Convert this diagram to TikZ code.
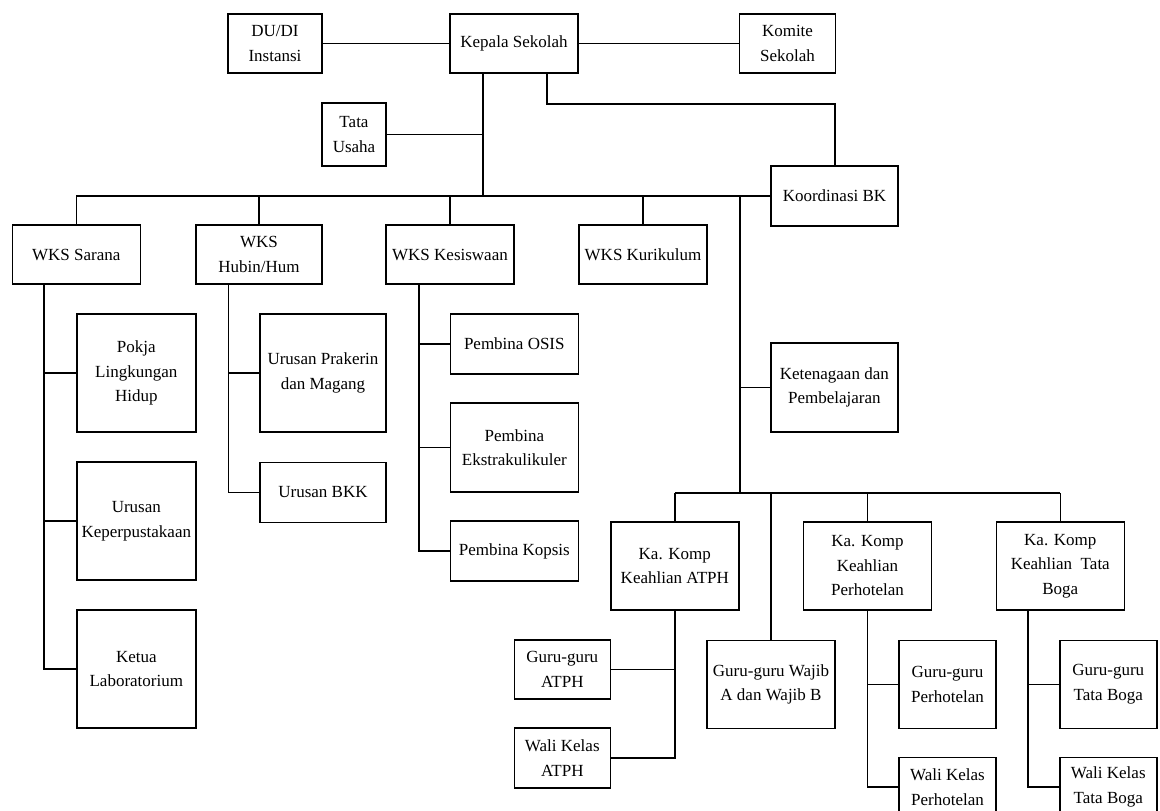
\documentclass[tikz,border=0pt]{standalone}
\usepackage{fontspec}
\setmainfont{Liberation Serif}
\begin{document}
\begin{tikzpicture}[x=1pt,y=1pt,yscale=-1,xscale=1,
  box/.style={draw,line width=1.5pt,align=center,inner sep=1pt,font=\fontsize{17}{24.5}\selectfont},
  link/.style={line width=1.4pt}]
\useasboundingbox (0,0) rectangle (1160,811);
\clip (0,0) rectangle (1160,811);
\node (dudi) [box,minimum width=94pt,minimum height=59pt] at (275,43.5) {DU/DI\\Instansi};
\node (kepala) [box,minimum width=128pt,minimum height=59pt] at (514,43.5) {Kepala Sekolah};
\node (komite) [box,minimum width=96pt,minimum height=59pt] at (787.5,43.5) {Komite\\Sekolah};
\node (tu) [box,minimum width=64pt,minimum height=63pt] at (354,134.5) {Tata\\Usaha};
\node (kbk) [box,minimum width=127pt,minimum height=60pt] at (834.5,196) {Koordinasi BK};
\node (sarana) [box,minimum width=128pt,minimum height=59pt] at (76.3,254.5) {WKS Sarana};
\node (hubin) [box,minimum width=126pt,minimum height=59pt] at (259,254.5) {WKS\\Hubin/Hum};
\node (kesis) [box,minimum width=128pt,minimum height=59pt] at (450,254.5) {WKS Kesiswaan};
\node (kuri) [box,minimum width=128pt,minimum height=59pt] at (643,254.5) {WKS Kurikulum};
\node (pokja) [box,minimum width=119pt,minimum height=118pt] at (136.3,373) {Pokja\\Lingkungan\\Hidup};
\node (pustaka) [box,minimum width=119pt,minimum height=118pt] at (136.3,521) {Urusan\\Keperpustakaan};
\node (lab) [box,minimum width=119pt,minimum height=118pt] at (136.3,669) {Ketua\\Laboratorium};
\node (prakerin) [box,minimum width=126pt,minimum height=118pt] at (323,373) {Urusan Prakerin\\dan Magang};
\node (bkk) [box,minimum width=126pt,minimum height=60pt] at (323,492.5) {Urusan BKK};
\node (osis) [box,minimum width=128pt,minimum height=60pt] at (514.3,343.8) {Pembina OSIS};
\node (ekstra) [box,minimum width=128pt,minimum height=89pt] at (514.3,447.5) {Pembina\\Ekstrakulikuler};
\node (kopsis) [box,minimum width=128pt,minimum height=60pt] at (514.3,551) {Pembina Kopsis};
\node (tenaga) [box,minimum width=127pt,minimum height=89pt] at (834.3,387.5) {Ketenagaan dan\\Pembelajaran};
\node (atph) [box,minimum width=128pt,minimum height=88pt] at (674.8,565.8) {Ka. Komp\\Keahlian ATPH};
\node (wajib) [box,minimum width=128pt,minimum height=88pt] at (771,684.3) {Guru-guru Wajib\\A dan Wajib B};
\node (hotel) [box,minimum width=128pt,minimum height=88pt] at (867.5,565.8) {Ka. Komp\\Keahlian\\Perhotelan};
\node (boga) [box,minimum width=128pt,minimum height=88pt] at (1060.3,565.8) {Ka. Komp\\Keahlian~ Tata\\Boga};
\node (guruatph) [box,minimum width=96pt,minimum height=59pt] at (562.3,669.5) {Guru-guru\\ATPH};
\node (waliatph) [box,minimum width=96pt,minimum height=60pt] at (562.3,758) {Wali Kelas\\ATPH};
\node (guruhotel) [box,minimum width=97pt,minimum height=88pt] at (947.5,684.3) {Guru-guru\\Perhotelan};
\node (walihotel) [box,minimum width=97pt,minimum height=59pt] at (947.5,787) {Wali Kelas\\Perhotelan};
\node (guruboga) [box,minimum width=97pt,minimum height=88pt] at (1108.3,684.3) {Guru-guru\\Tata Boga};
\node (waliboga) [box,minimum width=97pt,minimum height=59pt] at (1108.3,787) {Wali Kelas\\Tata Boga};
\coordinate (hub) at (483,196);
\coordinate (kbkleft) at (547,104);
\coordinate (kbkup) at (835,104);
\coordinate (spine) at (740,493);
\coordinate (sx) at (44,286);
\coordinate (hx) at (228.5,286);
\coordinate (kx) at (419,286);
\coordinate (bx) at (1028,610);
\draw [link] (dudi.east) -- (kepala.west);
\draw [link] (kepala.east) -- (komite.west);
\draw [link] (kepala.south -| hub) -- (hub);
\draw [link] (tu.east) -- (tu.east -| hub);
\draw [link] (kepala.south -| kbkleft) -- (kbkleft) -- (kbkup) -- (kbk.north -| kbkup);
\draw [link] (sarana.north |- hub) -- (kbk.west);
\foreach \n in {sarana,hubin,kesis,kuri}
  \draw [link] (\n.north) -- (\n.north |- hub);
\draw [link] (spine |- hub) -- (spine);
\draw [link] (tenaga.west) -- (tenaga.west -| spine);
\draw [link] (sarana.south -| sx) |- (lab.west);
\foreach \n in {pokja,pustaka}
  \draw [link] (\n.west) -- (\n.west -| sx);
\draw [link] (hubin.south -| hx) |- (bkk.west);
\draw [link] (prakerin.west) -- (prakerin.west -| hx);
\draw [link] (kesis.south -| kx) |- (kopsis.west);
\foreach \n in {osis,ekstra}
  \draw [link] (\n.west) -- (\n.west -| kx);
\draw [link] (atph.north |- spine) -- (boga.north |- spine);
\foreach \n in {atph,wajib,hotel,boga}
  \draw [link] (\n.north) -- (\n.north |- spine);
\draw [link] (atph.south) |- (waliatph.east);
\draw [link] (guruatph.east) -- (guruatph.east -| atph.south);
\draw [link] (hotel.south) |- (walihotel.west);
\draw [link] (guruhotel.west) -- (guruhotel.west -| hotel.south);
\draw [link] (boga.south -| bx) |- (waliboga.west);
\draw [link] (guruboga.west) -- (guruboga.west -| bx);
\end{tikzpicture}
\end{document}
